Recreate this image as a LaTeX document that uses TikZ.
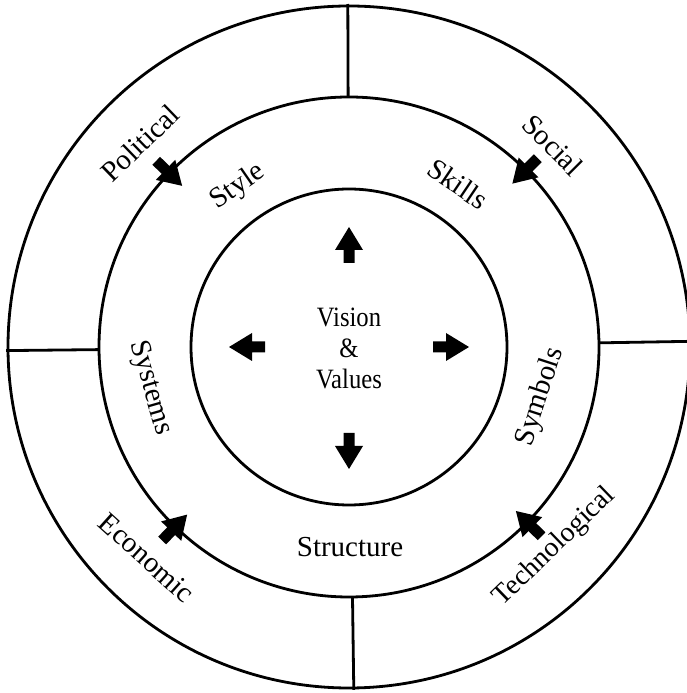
\documentclass[tikz,border=0pt]{standalone}
\usepackage{fontspec}
\setmainfont{Liberation Serif}
\newfontfamily\centerfont[FakeStretch=0.88]{Liberation Serif}
\begin{document}
\begin{tikzpicture}[x=1pt,y=1pt,
  ring/.style={line width=2.8pt},
  lbl/.style={font=\fontsize{29}{31}\selectfont, inner sep=0pt},
  blockarrow/.pic={\fill (0,-5.5) -- (13,-5.5) -- (13,-14) -- (36,0) -- (13,14) -- (13,5.5) -- (0,5.5) -- cycle;}
]
\useasboundingbox (0,0) rectangle (687,693);
\coordinate (C) at (349,346);
% circles
\draw[ring] (C) circle[radius=341];
\draw[ring] (C) circle[radius=250];
\draw[ring] (C) circle[radius=158];
% dividers of the outer ring
\draw[ring] (C) ++(90.2:250) -- ++(90.2:93);
\draw[ring] (C) ++(180.6:250) -- ++(180.6:93);
\draw[ring] (C) ++(0.95:250) -- ++(0.95:93);
\draw[ring] (C) ++(-89.2:250) -- ++(-89.2:93);
% block arrows on the middle ring, pointing inward
\path (C) ++(136:268) pic[rotate=-44] {blockarrow};
\path (C) ++(45:267) pic[rotate=-135] {blockarrow};
\path (C) ++(226:269) pic[rotate=46] {blockarrow};
\path (C) ++(315.5:270) pic[rotate=135.5] {blockarrow};
% block arrows in the centre, pointing outward
\path (C) ++(90:84) pic[rotate=90] {blockarrow};
\path (C) ++(180:84) pic[rotate=180] {blockarrow};
\path (C) ++(0:84) pic[rotate=0] {blockarrow};
\path (C) ++(-90:86) pic[rotate=-90] {blockarrow};
% centre text
\node[align=center, inner sep=0pt, font=\centerfont\fontsize{28}{31}\selectfont] (vv) at (349,345) {Vision\\\&\\Values};
% middle ring labels
\path (C) ++(124.7:195) node[lbl, rotate=34.7] (style) {Style};
\path (C) ++(56.2:196) node[lbl, rotate=-34] (skills) {Skills};
\path (C) ++(191.6:203) node[lbl, rotate=-74] (systems) {Systems};
\path (C) ++(-14.6:198) node[lbl, rotate=72] (symbols) {Symbols};
\path (C) ++(-89.7:200) node[lbl, rotate=0] (structure) {Structure};
% outer ring labels
\path (C) ++(135.7:292) node[lbl, rotate=44] (political) {Political};
\path (C) ++(44.7:287) node[lbl, rotate=-45] (social) {Social};
\path (C) ++(226.2:292) node[lbl, rotate=-42] (economic) {Economic};
\path (C) ++(-44.2:287) node[lbl, rotate=44, font=\fontsize{28}{30}\selectfont] (technological) {Technological};
\end{tikzpicture}
\end{document}
